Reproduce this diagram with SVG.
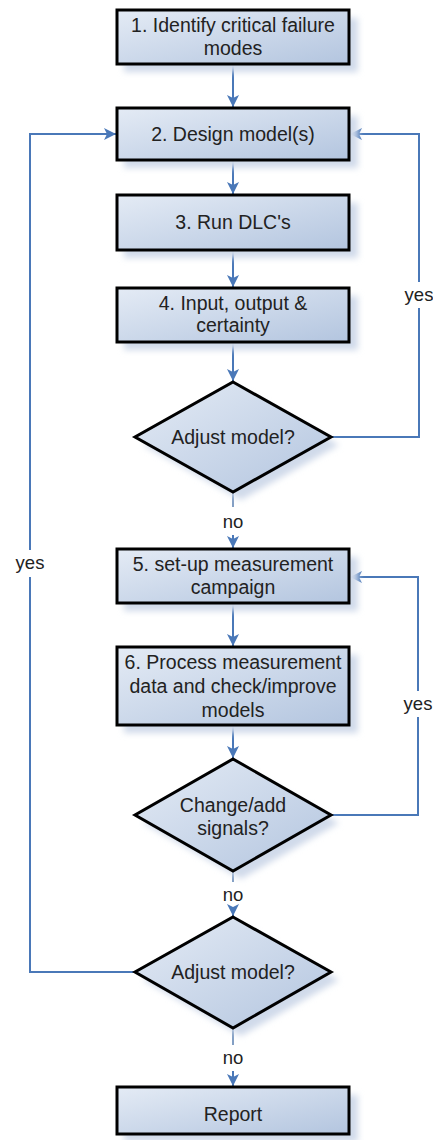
<svg xmlns="http://www.w3.org/2000/svg" width="433" height="1140" viewBox="0 0 433 1140">
<defs>
<linearGradient id="fillg" x1="0" y1="0" x2="1" y2="1">
<stop offset="0" stop-color="#e4ebf5"/>
<stop offset="1" stop-color="#b3c5df"/>
</linearGradient>
<filter id="blur" x="-20%" y="-20%" width="140%" height="140%">
<feGaussianBlur stdDeviation="3"/>
</filter>
<marker id="arr" viewBox="0 0 12 12" refX="12" refY="6" markerWidth="12" markerHeight="12" markerUnits="userSpaceOnUse" orient="auto">
<path d="M0,0 L12,6 L0,12 L3,6 z" fill="#4a78b8"/>
</marker>
</defs>
<style>
.shadow{fill:#d0daea;filter:url(#blur);}
.box{fill:url(#fillg);stroke:#000;stroke-width:3;}
.t{font-family:"Liberation Sans",Arial,sans-serif;font-size:19.5px;fill:#222;text-anchor:middle;}
.lbl{font-family:"Liberation Sans",Arial,sans-serif;font-size:18.5px;fill:#222;text-anchor:middle;}
.c{fill:none;stroke:#4a78b8;stroke-width:2;}
.cn{fill:none;stroke:#5a7fb0;stroke-width:1.5;}
</style>

<g id="connectors">
<path class="c" d="M233,64 V107" marker-end="url(#arr)"/>
<path class="c" d="M233,160 V194" marker-end="url(#arr)"/>
<path class="c" d="M233,250 V287" marker-end="url(#arr)"/>
<path class="c" d="M233,342 V381" marker-end="url(#arr)"/>
<path class="c" d="M331,437 H419 V308"/>
<path class="c" d="M419,282 V134 H350" marker-end="url(#arr)"/>
<path class="cn" d="M233,492 V507"/>
<path class="c" d="M233,535 V548" marker-end="url(#arr)"/>
<path class="c" d="M233,603 V646" marker-end="url(#arr)"/>
<path class="c" d="M233,725 V758" marker-end="url(#arr)"/>
<path class="c" d="M331,815 H418 V717"/>
<path class="c" d="M418,691 V577 H350" marker-end="url(#arr)"/>
<path class="cn" d="M233,871 V882"/>
<path class="c" d="M233,908 V916" marker-end="url(#arr)"/>
<path class="c" d="M135,972 H30 V577"/>
<path class="c" d="M30,550 V134 H116" marker-end="url(#arr)"/>
<path class="cn" d="M233,1028 V1045"/>
<path class="c" d="M233,1071 V1086" marker-end="url(#arr)"/>
<text class="lbl" x="419" y="301">yes</text>
<text class="lbl" x="418" y="710">yes</text>
<text class="lbl" x="30" y="569">yes</text>
<text class="lbl" x="233" y="528">no</text>
<text class="lbl" x="233" y="901">no</text>
<text class="lbl" x="233" y="1064">no</text>
</g>

<g id="n1">
<rect class="shadow" x="124" y="18" width="234" height="54"/>
<rect class="box" x="117" y="10" width="232" height="54"/>
<text class="t" x="233" y="32">1. Identify critical failure</text>
<text class="t" x="233" y="55">modes</text>
</g>
<g id="n2">
<rect class="shadow" x="124" y="116" width="234" height="52"/>
<rect class="box" x="117" y="108" width="232" height="52"/>
<text class="t" x="233" y="141">2. Design model(s)</text>
</g>
<g id="n3">
<rect class="shadow" x="124" y="203" width="234" height="55"/>
<rect class="box" x="117" y="195" width="232" height="55"/>
<text class="t" x="233" y="229">3. Run DLC's</text>
</g>
<g id="n4">
<rect class="shadow" x="124" y="296" width="234" height="54"/>
<rect class="box" x="117" y="288" width="232" height="54"/>
<text class="t" x="233" y="310">4. Input, output &amp;</text>
<text class="t" x="233" y="332">certainty</text>
</g>
<g id="d1">
<polygon class="shadow" points="241,390 339,445 241,500 143,445"/>
<polygon class="box" points="233,382 331,437 233,492 135,437"/>
<text class="t" x="233" y="444">Adjust model?</text>
</g>
<g id="n5">
<rect class="shadow" x="124" y="557" width="234" height="54"/>
<rect class="box" x="117" y="549" width="232" height="54"/>
<text class="t" x="233" y="571">5. set-up measurement</text>
<text class="t" x="233" y="594">campaign</text>
</g>
<g id="n6">
<rect class="shadow" x="124" y="655" width="234" height="78"/>
<rect class="box" x="117" y="647" width="232" height="78"/>
<text class="t" x="233" y="669">6. Process measurement</text>
<text class="t" x="233" y="693">data and check/improve</text>
<text class="t" x="233" y="717">models</text>
</g>
<g id="d2">
<polygon class="shadow" points="241,767 339,823 241,879 143,823"/>
<polygon class="box" points="233,759 331,815 233,871 135,815"/>
<text class="t" x="233" y="812">Change/add</text>
<text class="t" x="233" y="835">signals?</text>
</g>
<g id="d3">
<polygon class="shadow" points="241,925 339,980 241,1036 143,980"/>
<polygon class="box" points="233,917 331,972 233,1028 135,972"/>
<text class="t" x="233" y="979">Adjust model?</text>
</g>
<g id="n7">
<rect class="shadow" x="124" y="1095" width="234" height="47"/>
<rect class="box" x="117" y="1087" width="232" height="47"/>
<text class="t" x="233" y="1121">Report</text>
</g>
</svg>
